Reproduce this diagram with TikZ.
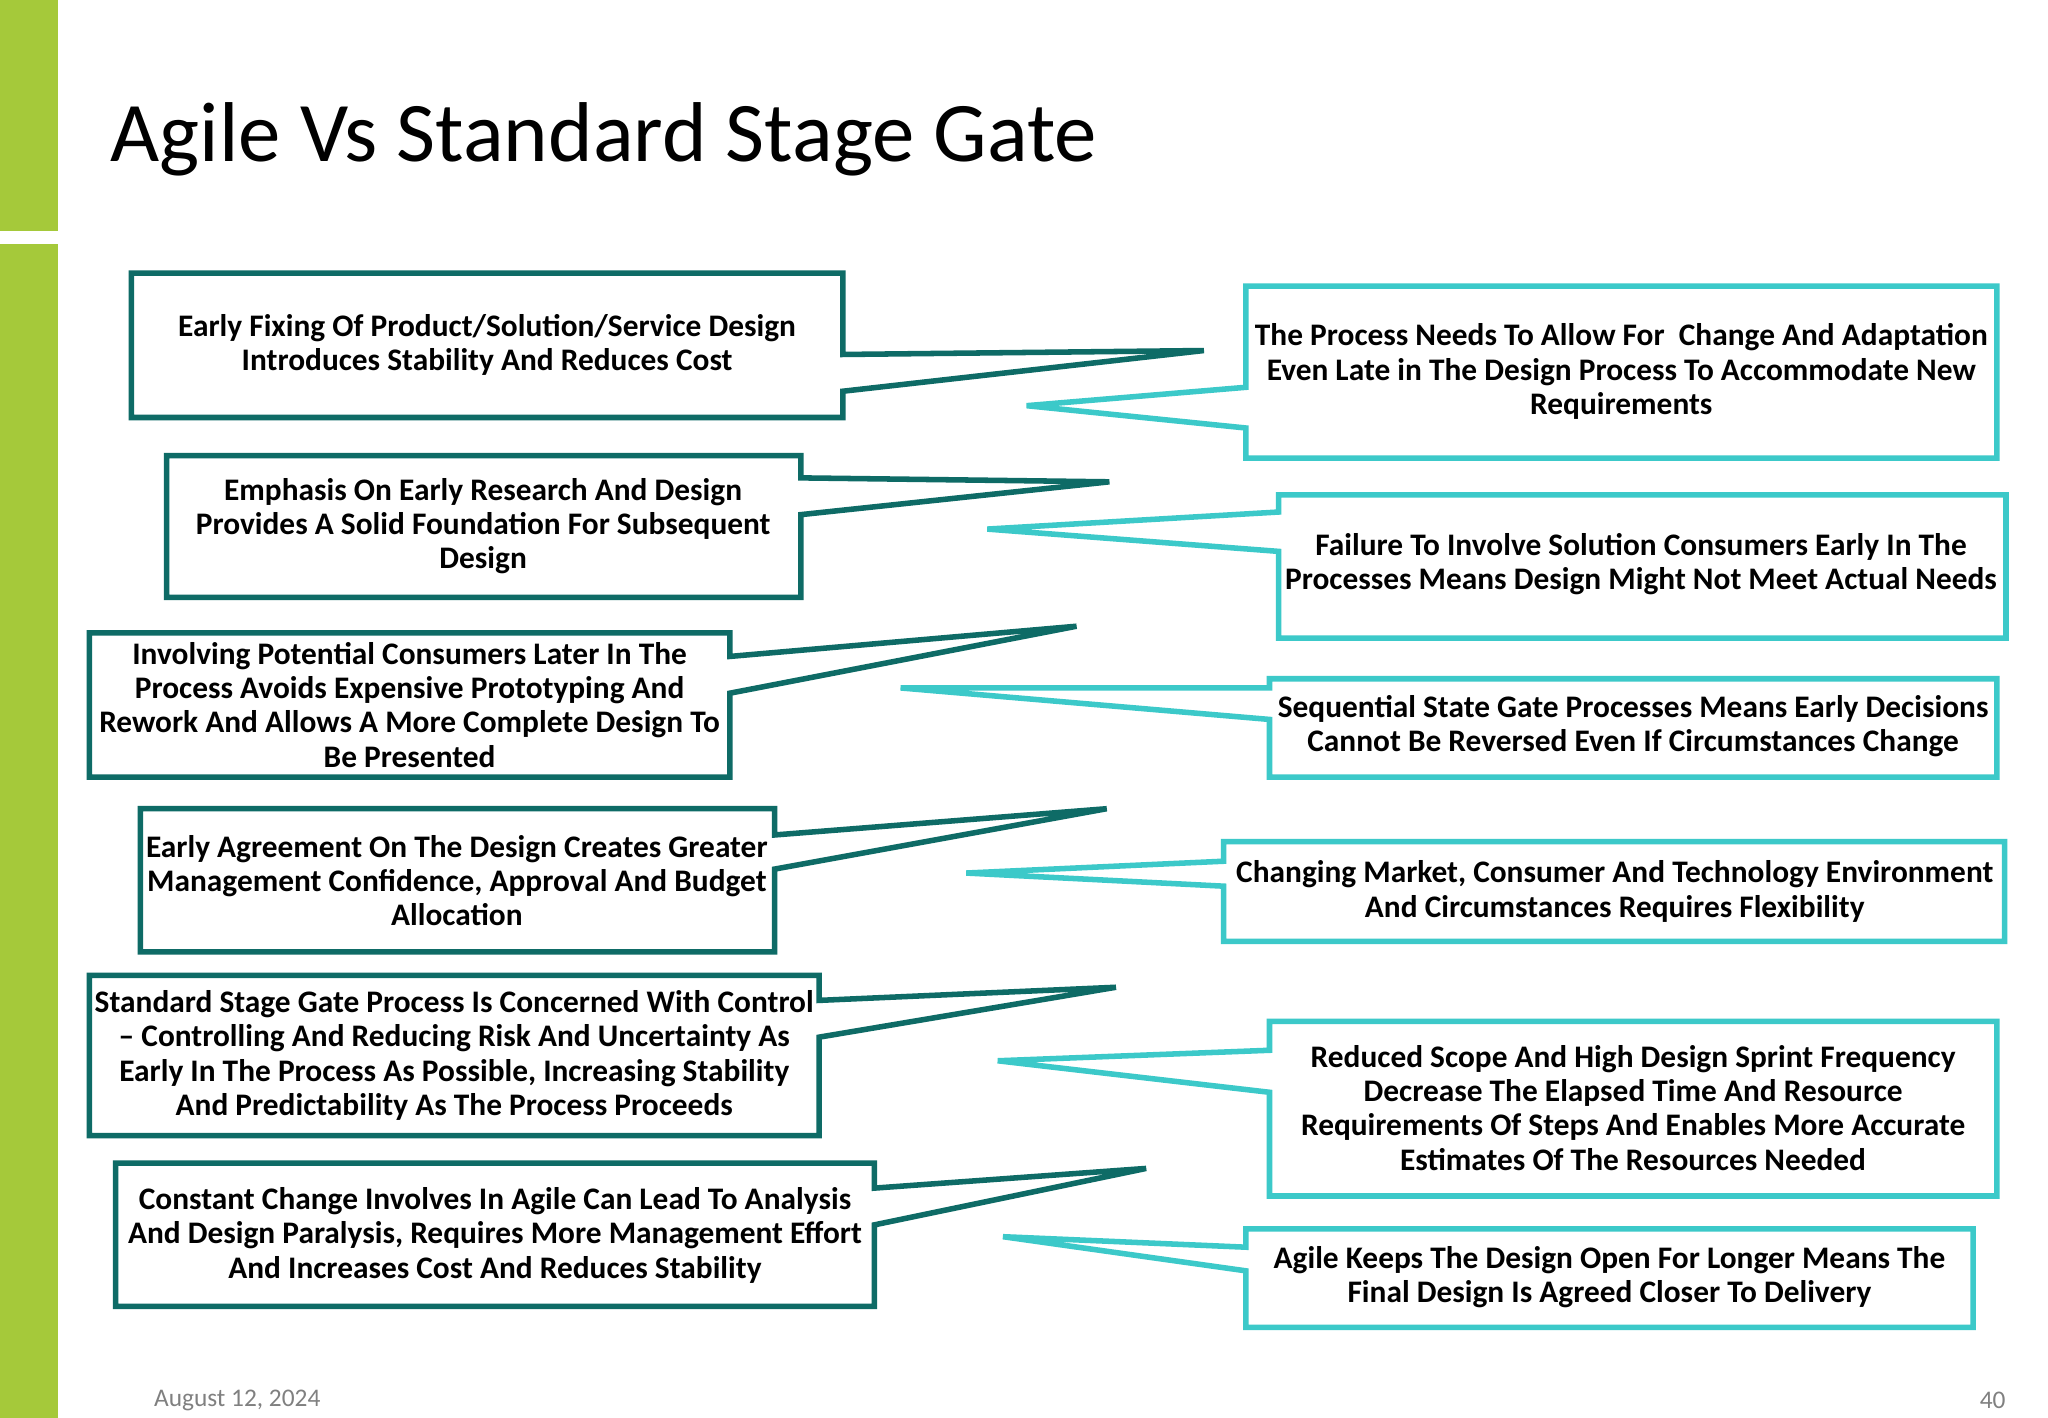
\documentclass[tikz,border=0pt]{standalone}
\usepackage{fontspec}
\setmainfont{Carlito}
\begin{document}
\begin{tikzpicture}[x=0.02cm,y=-0.02cm,
  dk/.style={draw=dkc, line width=2.4pt, line join=miter},
  lt/.style={draw=ltc, line width=2.4pt, line join=miter},
  txt/.style={font=\fontsize{13.6}{14.8}\selectfont\bfseries, align=center, text=black, inner sep=0pt}]
\definecolor{dkc}{HTML}{0E6B66}
\definecolor{ltc}{HTML}{3CC9C9}
\definecolor{grn}{HTML}{A5C93A}
\useasboundingbox (0,0) rectangle (1560,1080);
\fill[white] (0,0) rectangle (1560,1080);
\fill[grn] (0,0) rectangle (44,176);
\fill[grn] (0,186) rectangle (44,1080);
\node[anchor=west, font=\fontsize{36.8}{44}\selectfont, inner sep=0pt] (title) at (84,106) {Agile Vs Standard Stage Gate};
% left callouts
\draw[dk] (100,208) -- (642,208) -- (642,270) -- (917,267) -- (642,298) -- (642,318) -- (100,318) -- cycle;
\node[txt] (l1) at (371,263) {Early Fixing Of Product/Solution/Service Design\\Introduces Stability And Reduces Cost};
\draw[dk] (127,347) -- (610,347) -- (610,364) -- (845,367) -- (610,392) -- (610,455) -- (127,455) -- cycle;
\node[txt] (l2) at (368,401) {Emphasis On Early Research And Design\\Provides A Solid Foundation For Subsequent\\Design};
\draw[dk] (68,482) -- (556,482) -- (556,500) -- (820,477) -- (556,528) -- (556,592) -- (68,592) -- cycle;
\node[txt] (l3) at (312,537) {Involving Potential Consumers Later In The\\Process Avoids Expensive Prototyping And\\Rework And Allows A More Complete Design To\\Be Presented};
\draw[dk] (107,616) -- (590,616) -- (590,636) -- (843,616) -- (590,662) -- (590,725) -- (107,725) -- cycle;
\node[txt] (l4) at (348,671) {Early Agreement On The Design Creates Greater\\Management Confidence, Approval And Budget\\Allocation};
\draw[dk] (68,743) -- (624,743) -- (624,762) -- (850,752) -- (624,790) -- (624,865) -- (68,865) -- cycle;
\node[txt] (l5) at (346,804) {Standard Stage Gate Process Is Concerned With Control\\– Controlling And Reducing Risk And Uncertainty As\\Early In The Process As Possible, Increasing Stability\\And Predictability As The Process Proceeds};
\draw[dk] (88,886) -- (666,886) -- (666,905) -- (873,890) -- (666,933) -- (666,995) -- (88,995) -- cycle;
\node[txt] (l6) at (377,941) {Constant Change Involves In Agile Can Lead To Analysis\\And Design Paralysis, Requires More Management Effort\\And Increases Cost And Reduces Stability};
% right callouts
\draw[lt] (949,218) -- (1521,218) -- (1521,349) -- (949,349) -- (949,326) -- (782,309) -- (949,295) -- cycle;
\node[txt] (r1) at (1235,283) {The Process Needs To Allow For \ Change And Adaptation\\Even Late in The Design Process To Accommodate New\\Requirements};
\draw[lt] (974,377) -- (1528,377) -- (1528,486) -- (974,486) -- (974,420) -- (752,403) -- (974,390) -- cycle;
\node[txt] (r2) at (1250,430) {Failure To Involve Solution Consumers Early In The\\Processes Means Design Might Not Meet Actual Needs};
\draw[lt] (967,517) -- (1521,517) -- (1521,592) -- (967,592) -- (967,548) -- (686,524) -- (967,524) -- cycle;
\node[txt] (r3) at (1244,553) {Sequential State Gate Processes Means Early Decisions\\Cannot Be Reversed Even If Circumstances Change};
\draw[lt] (932,641) -- (1527,641) -- (1527,717) -- (932,717) -- (932,675) -- (736,665) -- (932,656) -- cycle;
\node[txt] (r4) at (1230,679) {Changing Market, Consumer And Technology Environment\\And Circumstances Requires Flexibility};
\draw[lt] (967,778) -- (1521,778) -- (1521,911) -- (967,911) -- (967,832) -- (760,808) -- (967,800) -- cycle;
\node[txt] (r5) at (1244,844) {Reduced Scope And High Design Sprint Frequency\\Decrease The Elapsed Time And Resource\\Requirements Of Steps And Enables More Accurate\\Estimates Of The Resources Needed};
\draw[lt] (949,936) -- (1503,936) -- (1503,1011) -- (949,1011) -- (949,968) -- (764,942) -- (949,950) -- cycle;
\node[txt] (r6) at (1226,973) {Agile Keeps The Design Open For Longer Means The\\Final Design Is Agreed Closer To Delivery};
\node[anchor=west, font=\fontsize{11}{13}\selectfont, text=gray, inner sep=0pt] (date) at (117,1067) {August 12, 2024};
\node[anchor=east, font=\fontsize{11}{13}\selectfont, text=gray, inner sep=0pt] (pg) at (1528,1067) {40};
\end{tikzpicture}
\end{document}
